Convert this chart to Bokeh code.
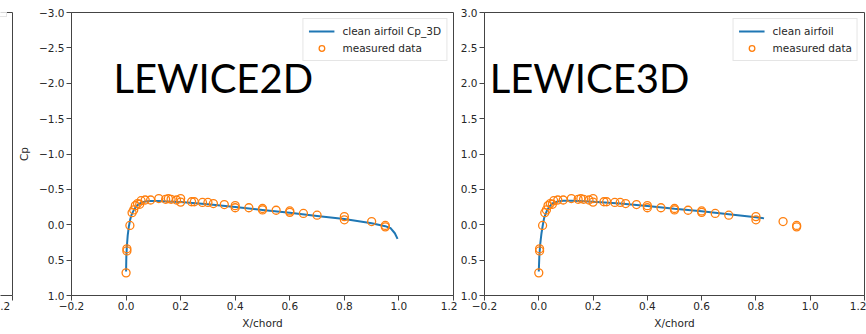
from bokeh.plotting import figure
from bokeh.models import Range1d, FixedTicker, LinearAxis, Label, Legend, LegendItem
from bokeh.layouts import row
from bokeh.embed import file_html
from bokeh.resources import INLINE

# ---------------- data ----------------
x_ticks = [-0.2, 0.0, 0.2, 0.4, 0.6, 0.8, 1.0, 1.2]
x_tick_labels = ["\u22120.2", "0.0", "0.2", "0.4", "0.6", "0.8", "1.0", "1.2"]
y_ticks = [-3.0, -2.5, -2.0, -1.5, -1.0, -0.5, 0.0, 0.5, 1.0]
y_tick_labels = ["\u22123.0", "\u22122.5", "\u22122.0", "\u22121.5", "\u22121.0", "\u22120.5", "0.0", "0.5", "1.0"]
# right panel: its tick labels are cropped in the picture
y_tick_labels_cropped = ["3.0", "2.5", "2.0", "1.5", "1.0", "0.5", "0.0", "0.5", "1.0"]

lewice2d_x = [0.0, 0.001, 0.003, 0.006, 0.01, 0.015, 0.02, 0.03, 0.04, 0.05, 0.07, 0.09,
              0.12, 0.15, 0.2, 0.3, 0.4, 0.5, 0.6, 0.7, 0.8, 0.9, 0.95, 0.97, 0.985, 0.995]
lewice2d_cp = [0.66, 0.45, 0.3, 0.15, 0.03, -0.07, -0.14, -0.22, -0.27, -0.30, -0.33, -0.335,
               -0.335, -0.33, -0.32, -0.29, -0.25, -0.21, -0.17, -0.125, -0.08, -0.02, 0.02, 0.05, 0.12, 0.2]

lewice3d_x = [0.0, 0.002, 0.005, 0.01, 0.015, 0.02, 0.03, 0.04, 0.05, 0.07, 0.09, 0.12,
              0.15, 0.2, 0.3, 0.4, 0.5, 0.6, 0.7, 0.8, 0.83]
lewice3d_cp = [0.66, 0.45, 0.28, 0.12, 0.0, -0.1, -0.2, -0.26, -0.3, -0.33, -0.34, -0.34,
               -0.335, -0.325, -0.3, -0.265, -0.225, -0.19, -0.15, -0.105, -0.09]

measured_x = [0.0, 0.003, 0.003, 0.014, 0.022, 0.028, 0.034, 0.042, 0.05, 0.055, 0.07, 0.09,
              0.12, 0.145, 0.155, 0.165, 0.185, 0.2, 0.2, 0.24, 0.25, 0.28, 0.30, 0.32, 0.36,
              0.40, 0.40, 0.45, 0.50, 0.50, 0.55, 0.60, 0.60, 0.65, 0.70, 0.80, 0.80, 0.90, 0.95, 0.95]
measured_cp = [0.68, 0.37, 0.34, 0.01, -0.17, -0.21, -0.27, -0.30, -0.29, -0.34, -0.35, -0.35,
               -0.37, -0.36, -0.37, -0.36, -0.35, -0.37, -0.32, -0.325, -0.325, -0.315, -0.315, -0.30, -0.285,
               -0.27, -0.24, -0.24, -0.23, -0.21, -0.205, -0.195, -0.175, -0.16, -0.135, -0.115, -0.07, -0.045, 0.01, 0.03]

BLUE = "#1f77b4"
ORANGE = "#ff7f0e"
AX = "#444444"
TXT = "#262626"
TICK_FONT = "DejaVu Sans"
TICK_SIZE = "10.5px"
BIG_FONT = "Lato"


def style_axis(ax, ticks, labels, standoff):
    ax.ticker = FixedTicker(ticks=ticks)
    ax.major_label_overrides = dict(zip(ticks, labels))
    ax.minor_tick_line_color = None
    ax.major_tick_in = 0
    ax.major_tick_out = 5
    ax.major_tick_line_color = AX
    ax.axis_line_color = AX
    ax.major_label_text_font = TICK_FONT
    ax.major_label_text_font_size = TICK_SIZE
    ax.major_label_text_color = TXT
    ax.major_label_standoff = standoff
    ax.axis_label_text_font = TICK_FONT
    ax.axis_label_text_font_size = TICK_SIZE
    ax.axis_label_text_font_style = "normal"
    ax.axis_label_text_color = TXT


def style_legend(lg):
    lg.border_line_color = "#cccccc"
    lg.border_line_width = 1
    lg.background_fill_color = "white"
    lg.background_fill_alpha = 0.8
    lg.label_text_font = TICK_FONT
    lg.label_text_font_size = "10.5px"
    lg.label_text_color = TXT
    lg.glyph_width = 26
    lg.glyph_height = 14
    lg.label_height = 14
    lg.label_standoff = 8
    lg.spacing = 3
    lg.padding = 5
    lg.margin = 6


def panel(width, mb_left, mb_right, ylabels, cp_label, line_x, line_cp, line_label):
    p = figure(width=width, height=334, x_range=Range1d(-0.2, 1.2), y_range=Range1d(1.0, -3.0),
               toolbar_location=None, output_backend="svg",
               min_border_left=mb_left, min_border_right=mb_right, min_border_top=12, min_border_bottom=39,
               outline_line_color=AX, outline_line_width=1)
    p.grid.visible = False
    style_axis(p.xaxis[0], x_ticks, x_tick_labels, 1)
    p.xaxis[0].axis_label = "X/chord"
    p.xaxis[0].axis_label_standoff = 4
    style_axis(p.yaxis[0], y_ticks, ylabels, 2)
    if cp_label:
        p.yaxis[0].axis_label = "Cp"
        p.yaxis[0].axis_label_standoff = 6
    r1 = p.line(line_x, line_cp, line_color=BLUE, line_width=2)
    r2 = p.scatter(measured_x, measured_cp, marker="circle", size=8, fill_color=None,
                   line_color=ORANGE, line_width=1.3)
    lg = Legend(items=[LegendItem(label=line_label, renderers=[r1]),
                       LegendItem(label="measured data", renderers=[r2])], location="top_right")
    style_legend(lg)
    p.add_layout(lg)
    return p


# left remnant of a cropped neighbouring chart
pa = figure(width=15, height=334, x_range=Range1d(1.15, 1.2), y_range=Range1d(1.0, -3.0),
            toolbar_location=None, output_backend="svg", y_axis_location=None,
            min_border_left=0, min_border_right=3, min_border_top=12, min_border_bottom=39,
            outline_line_color=None)
pa.grid.visible = False
style_axis(pa.xaxis[0], [1.2], ["1.2"], 1)
for loc in ("above", "right"):
    ax = LinearAxis(ticker=FixedTicker(ticks=[]), major_tick_out=0, major_tick_in=0,
                    minor_tick_line_color=None, major_label_text_font_size="0px",
                    axis_line_color=AX)
    pa.add_layout(ax, loc)
ra = pa.line([], [], line_color=BLUE, line_width=2)
rb = pa.scatter([], [], marker="circle", size=8, fill_color=None, line_color=ORANGE)
lga = Legend(items=[LegendItem(label="clean airfoil", renderers=[ra]),
                    LegendItem(label="measured data", renderers=[rb])], location=(-118, 278))
style_legend(lga)
pa.add_layout(lga)

pb = panel(442, 55, 4, y_tick_labels, True, lewice2d_x, lewice2d_cp, "clean airfoil Cp_3D")
pb.add_layout(Label(x=-0.0465, y=-2.08, text="LEWICE2D", text_font=BIG_FONT, text_font_size="40px",
                    text_color="black", text_baseline="alphabetic"))

pc = panel(409, 26, 2, y_tick_labels_cropped, False, lewice3d_x, lewice3d_cp, "clean airfoil")
pc.add_layout(Label(x=-0.181, y=-2.08, text="LEWICE3D", text_font=BIG_FONT, text_font_size="40px",
                    text_color="black", text_baseline="alphabetic"))

layout = row(pa, pb, pc)

open("out.html", "w").write(file_html(layout, INLINE))
